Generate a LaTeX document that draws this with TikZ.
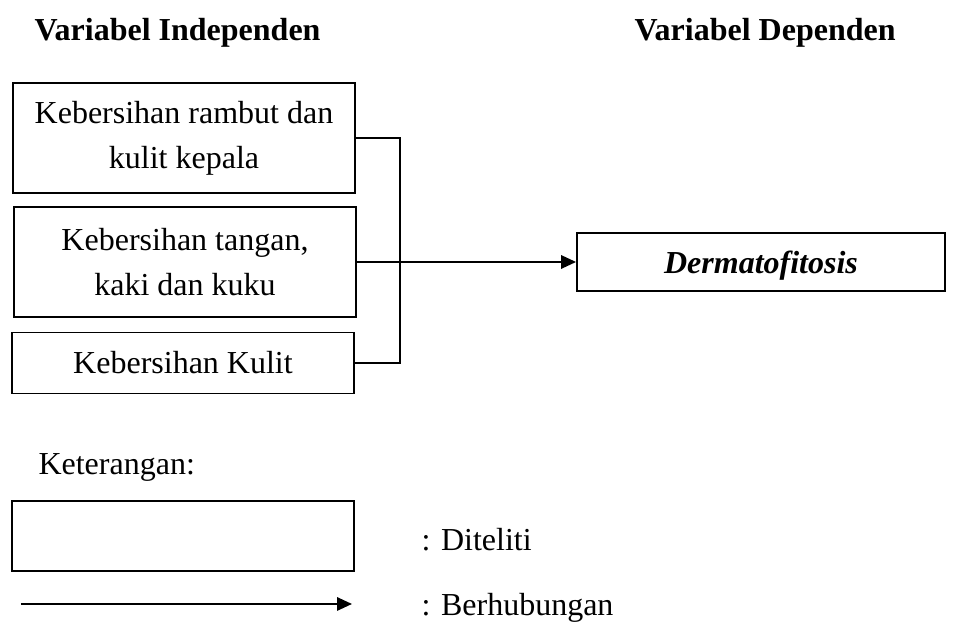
\documentclass[tikz,border=0pt]{standalone}
\usepackage{fontspec}
\setmainfont{Liberation Serif}
\usepackage{tikz}
\usetikzlibrary{arrows.meta}

\begin{document}
\begin{tikzpicture}[x=0.375pt, y=-0.375pt, >={Triangle[length=5.6pt,width=5pt]},
  varbox/.style={draw, line width=0.7pt, minimum width=128.25pt, inner sep=0pt, align=center, font=\fontsize{12}{17}\selectfont},
  head/.style={anchor=west, inner sep=0pt, font=\fontsize{12}{14}\selectfont\bfseries},
  ket/.style={anchor=west, inner sep=0pt, font=\fontsize{12}{14}\selectfont},
  link/.style={line width=0.75pt},]
\useasboundingbox (0,0) rectangle (960,629);
\node[head] (hi) at (34, 33)  {Variabel Independen};
\node[head] (hd) at (634, 33) {Variabel Dependen};
\node[varbox, minimum height=41.25pt] (b1) at (184, 138) {Kebersihan rambut dan\\kulit kepala};
\node[varbox, minimum height=41.25pt] (b2) at (185, 262) {Kebersihan tangan,\\kaki dan kuku};
\node[varbox, minimum height=22.9pt] (b3) at (183, 363) {Kebersihan Kulit};
\node[varbox, minimum width=138pt, minimum height=21.75pt, text depth=0pt, font=\fontsize{12}{14}\selectfont\bfseries\itshape] (dep) at (761, 262) {Dermatofitosis};
\coordinate (jx) at (400, 0);
 \draw [link] (b1.east) -- (b1.east -| jx) -- (b3.east -| jx) -- (b3.east);
 \draw [link, ->] (b2.east) -- (dep.west);
% keterangan
\node[ket] (ket) at (38, 467) {Keterangan:};
\node[varbox, minimum height=26.25pt] (lbox) at (183, 536) {};
\node[ket] (dit) at (421, 540) {: Diteliti};
\coordinate (la) at (21, 604);
\coordinate (lb) at (352, 604);
 \draw [link, ->] (la) -- (lb);
\node[ket] (ber) at (421, 608) {: Berhubungan};
\end{tikzpicture}
\end{document}
